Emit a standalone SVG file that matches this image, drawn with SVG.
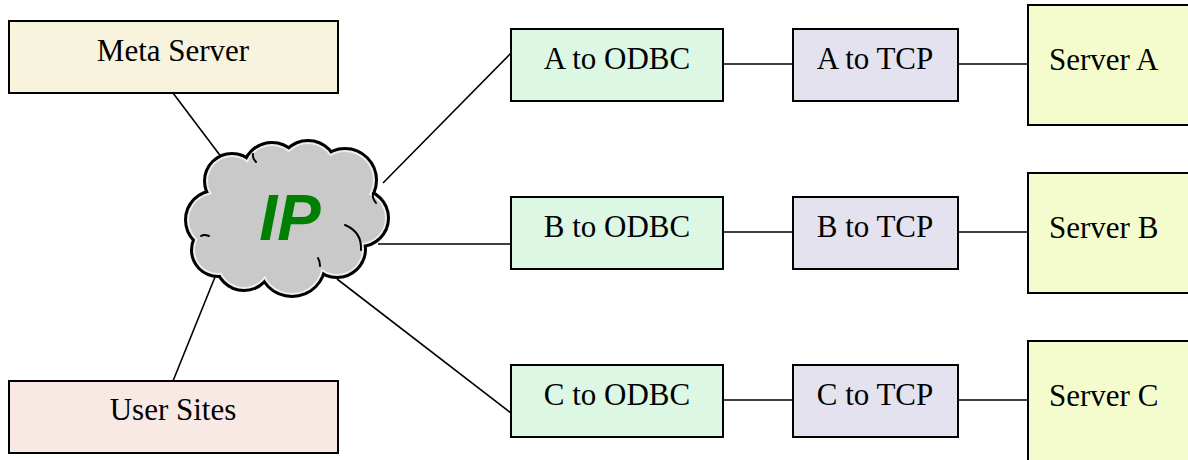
<svg xmlns="http://www.w3.org/2000/svg" width="1188" height="460" viewBox="0 0 1188 460">
  <style>
    .box { stroke: #000; stroke-width: 2; }
    .lbl { font-family: "Liberation Serif", "Times New Roman", serif; font-size: 31px; fill: #000; }
    .mid { text-anchor: middle; }
    .link { stroke: #000; stroke-width: 1.6; fill: none; }
    .meta { fill: #f7f3dc; }
    .user { fill: #f9e9e4; }
    .odbc { fill: #dcf8e4; }
    .tcp { fill: #e3e2ee; }
    .srv { fill: #f4fbcc; }
    .notch { stroke: #000; stroke-width: 2; fill: none; stroke-linecap: round; }
  </style>
  <defs>
    <!-- cloud outline bubbles -->
    <g id="bubbles">
      <circle cx="232" cy="181" r="26"/>
      <circle cx="272" cy="172" r="28"/>
      <circle cx="308" cy="170" r="28"/>
      <circle cx="345" cy="180" r="30"/>
      <circle cx="360" cy="218" r="27"/>
      <circle cx="337" cy="249" r="27"/>
      <circle cx="292" cy="263" r="32"/>
      <circle cx="244" cy="262" r="27"/>
      <circle cx="218" cy="250" r="25"/>
      <circle cx="215" cy="220" r="28"/>
      <circle cx="245" cy="228" r="24"/>
      <circle cx="287" cy="217" r="52"/>
    </g>
    <!-- same bubbles, slightly smaller, for the body fill -->
    <g id="bubbles-in">
      <circle cx="232" cy="181" r="24"/>
      <circle cx="272" cy="172" r="26"/>
      <circle cx="308" cy="170" r="26"/>
      <circle cx="345" cy="180" r="28"/>
      <circle cx="360" cy="218" r="25"/>
      <circle cx="337" cy="249" r="25"/>
      <circle cx="292" cy="263" r="30"/>
      <circle cx="244" cy="262" r="25"/>
      <circle cx="218" cy="250" r="23"/>
      <circle cx="215" cy="220" r="26"/>
      <circle cx="245" cy="228" r="24"/>
      <circle cx="287" cy="217" r="52"/>
    </g>
  </defs>
  <rect width="1188" height="460" fill="#fff"/>

  <g id="connectors">
    <line class="link" x1="173" y1="93" x2="222" y2="158"/>
    <line class="link" x1="173" y1="381" x2="215" y2="277"/>
    <line class="link" x1="383" y1="183" x2="511" y2="53"/>
    <line class="link" x1="378" y1="244" x2="511" y2="244"/>
    <line class="link" x1="337" y1="279" x2="511" y2="413"/>
    <line class="link" x1="723" y1="64" x2="793" y2="64"/>
    <line class="link" x1="723" y1="232" x2="793" y2="232"/>
    <line class="link" x1="723" y1="400" x2="793" y2="400"/>
    <line class="link" x1="958" y1="64" x2="1028" y2="64"/>
    <line class="link" x1="958" y1="232" x2="1028" y2="232"/>
    <line class="link" x1="958" y1="400" x2="1028" y2="400"/>
  </g>

  <g id="cloud-ip">
    <use href="#bubbles" fill="#000" stroke="#000" stroke-width="6"/>
    <use href="#bubbles" fill="#eeeeee"/>
    <use href="#bubbles-in" fill="#c9c9c9"/>
    <path class="notch" d="M345,225 Q362,232 361,250"/>
    <path class="notch" d="M376,203 Q372,198 373,194"/>
    <path class="notch" d="M256,162 Q252,158 253,154"/>
    <path class="notch" d="M209,236 Q204,234 201,236"/>
    <path class="notch" d="M320,266 Q320,261 318,258"/>
    <text x="290" y="240" text-anchor="middle" font-family="Liberation Sans, Arial, sans-serif" font-size="65" font-weight="bold" font-style="italic" fill="#008000">IP</text>
  </g>

  <g id="meta-server">
    <rect class="box meta" x="9" y="21" width="329" height="72"/>
    <text class="lbl mid" x="173" y="61">Meta Server</text>
  </g>
  <g id="user-sites">
    <rect class="box user" x="9" y="381" width="329" height="72"/>
    <text class="lbl mid" x="173" y="420">User Sites</text>
  </g>

  <g id="a-odbc">
    <rect class="box odbc" x="511" y="29" width="212" height="72"/>
    <text class="lbl mid" x="617" y="69">A to ODBC</text>
  </g>
  <g id="b-odbc">
    <rect class="box odbc" x="511" y="197" width="212" height="72"/>
    <text class="lbl mid" x="617" y="237">B to ODBC</text>
  </g>
  <g id="c-odbc">
    <rect class="box odbc" x="511" y="365" width="212" height="72"/>
    <text class="lbl mid" x="617" y="405">C to ODBC</text>
  </g>

  <g id="a-tcp">
    <rect class="box tcp" x="793" y="29" width="165" height="72"/>
    <text class="lbl mid" x="875" y="69">A to TCP</text>
  </g>
  <g id="b-tcp">
    <rect class="box tcp" x="793" y="197" width="165" height="72"/>
    <text class="lbl mid" x="875" y="237">B to TCP</text>
  </g>
  <g id="c-tcp">
    <rect class="box tcp" x="793" y="365" width="165" height="72"/>
    <text class="lbl mid" x="875" y="405">C to TCP</text>
  </g>

  <g id="server-a">
    <rect class="box srv" x="1028" y="5" width="200" height="120"/>
    <text class="lbl" x="1049" y="70">Server A</text>
  </g>
  <g id="server-b">
    <rect class="box srv" x="1028" y="173" width="200" height="120"/>
    <text class="lbl" x="1049" y="238">Server B</text>
  </g>
  <g id="server-c">
    <rect class="box srv" x="1028" y="341" width="200" height="130"/>
    <text class="lbl" x="1049" y="406">Server C</text>
  </g>
</svg>
